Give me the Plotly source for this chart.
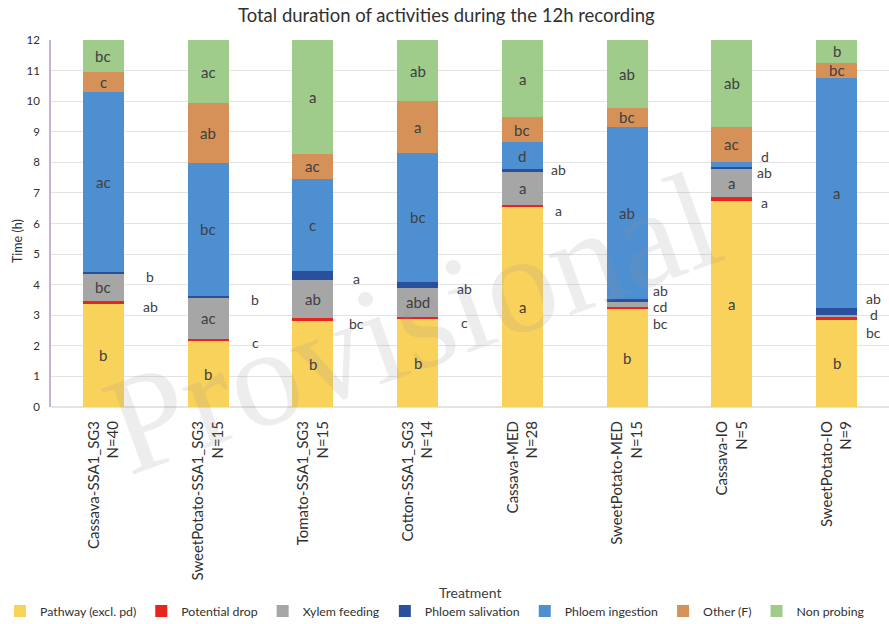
import plotly.graph_objects as go

categories = ["Cassava-SSA1_SG3<br>N=40", "SweetPotato-SSA1_SG3<br>N=15", "Tomato-SSA1_SG3<br>N=15",
              "Cotton-SSA1_SG3<br>N=14", "Cassava-MED<br>N=28", "SweetPotato-MED<br>N=15",
              "Cassava-IO<br>N=5", "SweetPotato-IO<br>N=9"]

series_names = ["Pathway (excl. pd)", "Potential drop", "Xylem feeding", "Phloem salivation",
                "Phloem ingestion", "Other (F)", "Non probing"]

pathway = [3.38, 2.19, 2.82, 2.88, 6.53, 3.23, 6.75, 2.87]
potential_drop = [0.10, 0.03, 0.08, 0.06, 0.08, 0.05, 0.11, 0.06]
xylem = [0.89, 1.37, 1.25, 0.96, 1.07, 0.16, 0.91, 0.08]
salivation = [0.05, 0.05, 0.31, 0.19, 0.09, 0.10, 0.09, 0.22]
ingestion = [5.87, 4.35, 3.00, 4.23, 0.89, 5.63, 0.16, 7.54]
other = [0.65, 1.94, 0.81, 1.68, 0.81, 0.60, 1.15, 0.49]
non_probing = [1.06, 2.07, 3.73, 2.00, 2.53, 2.23, 2.83, 0.74]

# letters written inside the segments ("" = none)
lab_pathway = ["b", "b", "b", "b", "a", "b", "a", "b"]
lab_drop = ["", "", "", "", "", "", "", ""]
lab_xylem = ["bc", "ac", "ab", "abd", "a", "", "a", ""]
lab_saliv = ["", "", "", "", "", "", "", ""]
lab_ingest = ["ac", "bc", "c", "bc", "d", "ab", "", "a"]
lab_other = ["c", "ab", "ac", "a", "bc", "bc", "ac", "bc"]
lab_nonprob = ["bc", "ac", "a", "ab", "a", "ab", "ab", "b"]

# letters written beside the bars (text, height in h)
side_text = [["b", "ab"], ["b", "c"], ["a", "bc"], ["ab", "c"], ["ab", "a"],
             ["ab", "cd", "bc"], ["d", "ab", "a"], ["ab", "d", "bc"]]
side_y = [[4.26, 3.30], [3.53, 2.10], [4.21, 2.74], [3.88, 2.76], [7.77, 6.44],
          [3.82, 3.30, 2.74], [8.2, 7.66, 6.69], [3.54, 3.01, 2.43]]
side_shift = [47, 47, 44, 47, 36, 33, 33, 37]

y_ticks = list(range(0, 13))

colors = ["#F9D25B", "#E8241E", "#A6A6A6", "#2A4F9C", "#4D8FD1", "#D69158", "#9FCB8B"]

values = [pathway, potential_drop, xylem, salivation, ingestion, other, non_probing]
inside = [lab_pathway, lab_drop, lab_xylem, lab_saliv, lab_ingest, lab_other, lab_nonprob]

font_family = "Lato, 'Open Sans', sans-serif"
txt_color = "#404040"

fig = go.Figure()
for name, vals, col in zip(series_names, values, colors):
    fig.add_trace(go.Bar(name=name, x=categories, y=vals, marker=dict(color=col, line=dict(width=0)),
                         hoverinfo="name+y"))

annotations = []
# watermark (drawn first, faint)
annotations.append(dict(xref="paper", yref="paper", x=(412 - 51) / 838, y=(407 - 322) / 367,
                        xanchor="center", yanchor="middle", textangle=-20,
                        text="Provisional", showarrow=False,
                        font=dict(size=140, color="rgba(150,150,150,0.17)",
                                  family="'Liberation Serif', serif")))

base = [0.0] * len(categories)
for vals, labs in zip(values, inside):
    for i, (v, lab) in enumerate(zip(vals, labs)):
        if lab:
            annotations.append(dict(x=categories[i], y=base[i] + v / 2, text=lab, showarrow=False,
                                    font=dict(size=15, color=txt_color, family=font_family)))
        base[i] += v

for i, (texts, ys) in enumerate(zip(side_text, side_y)):
    for t, yv in zip(texts, ys):
        annotations.append(dict(x=categories[i], y=yv, text=t, showarrow=False, xshift=side_shift[i],
                                font=dict(size=14, color=txt_color, family=font_family)))

# title, axis titles
annotations.append(dict(xref="paper", yref="paper", x=(446 - 51) / 838, y=1.0, yshift=25,
                        xanchor="center", yanchor="middle",
                        text="Total duration of activities during the 12h recording", showarrow=False,
                        font=dict(size=18.5, color="#303030", family=font_family)))
annotations.append(dict(xref="paper", yref="paper", x=(470 - 51) / 838, y=0, yshift=-185,
                        xanchor="center", yanchor="middle",
                        text="Treatment", showarrow=False,
                        font=dict(size=14, color=txt_color, family=font_family)))
annotations.append(dict(xref="paper", yref="paper", x=0, xshift=-34, y=(407 - 241) / 367,
                        xanchor="center", yanchor="middle", textangle=-90,
                        text="Time (h)", showarrow=False,
                        font=dict(size=12.5, color="#303030", family=font_family)))

fig.update_layout(
    barmode="stack",
    bargap=0.61,
    width=889, height=624,
    margin=dict(l=51, r=0, t=40, b=217, autoexpand=False),
    plot_bgcolor="white", paper_bgcolor="white",
    font=dict(family=font_family, color=txt_color),
    showlegend=True,
    legend=dict(orientation="h", x=-51 / 838, xanchor="left",
                y=-0.556, yanchor="middle",
                font=dict(size=12.3, color="#303030"), itemwidth=30, tracegroupgap=0,
                traceorder="normal"),
    annotations=annotations,
    xaxis=dict(tickangle=-90, tickfont=dict(size=15, color="#303030"), showline=False,
               ticks="", showgrid=False, automargin=False, ticklabelstandoff=10),
    yaxis=dict(range=[0, 12], tickvals=y_ticks, tickfont=dict(size=11.5, color="#303030"),
               showgrid=True, gridcolor="#E3E3E3", gridwidth=1, zeroline=True, zerolinecolor="#E3E3E3",
               showline=True, linecolor="#C7B2D6", linewidth=1.5, ticks="", ticklabelstandoff=7,
               automargin=False),
)

fig.write_html("out.html")
